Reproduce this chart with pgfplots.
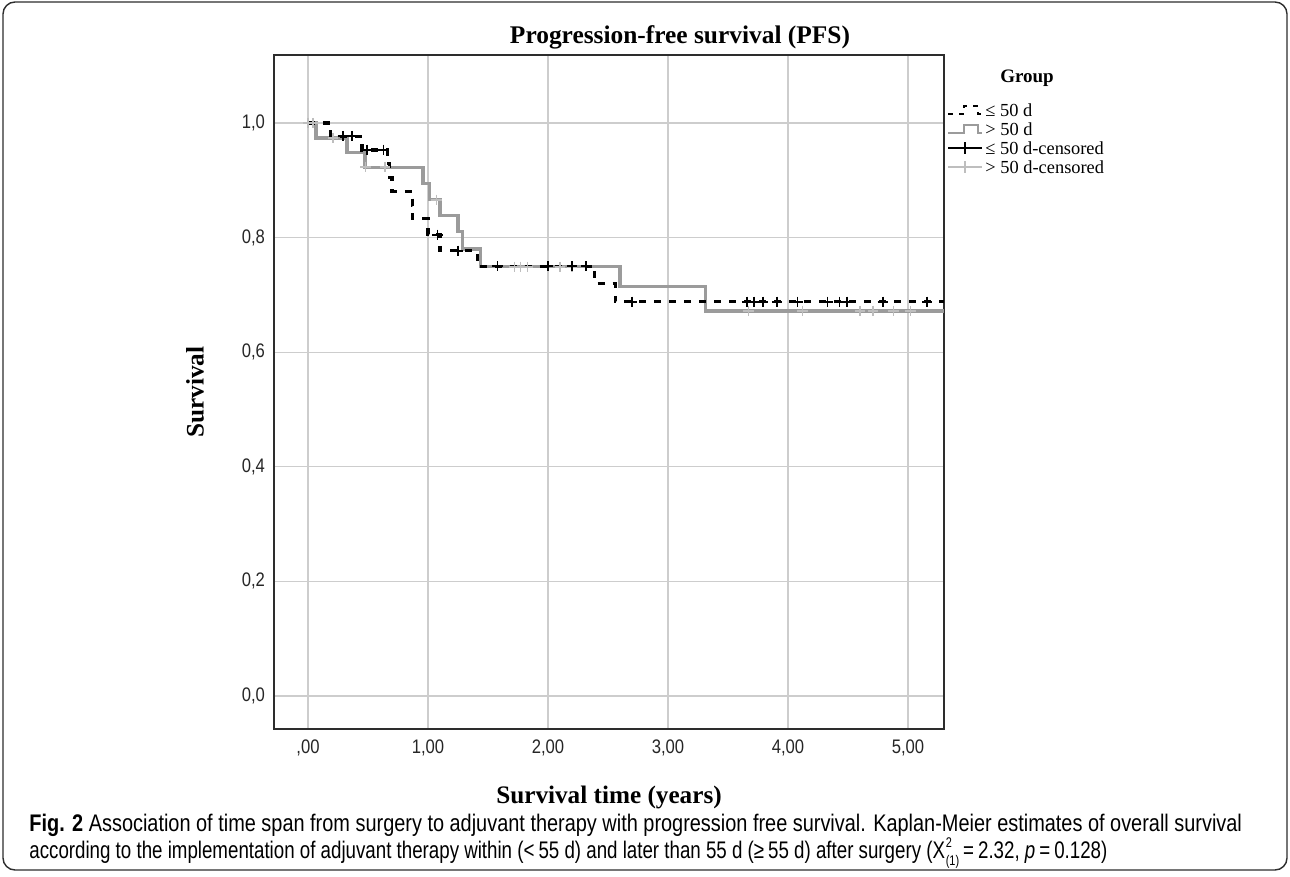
\documentclass[border=0pt]{standalone}
\usepackage{fontspec}
\setmainfont{Liberation Serif}
\usepackage{pgfplots}
\pgfplotsset{compat=1.18}
\newfontfamily\tickfont[FakeStretch=0.85]{Liberation Sans}
\newfontfamily\capfont[FakeStretch=0.83]{Liberation Sans}
\newfontfamily\capfontb[FakeStretch=0.78]{Liberation Sans}
\definecolor{kmgray}{RGB}{155,155,155}
\definecolor{cengray}{RGB}{190,190,190}
\definecolor{gridgray}{RGB}{205,205,205}
\definecolor{framec}{RGB}{45,45,45}

\begin{document}
\begin{tikzpicture}
\useasboundingbox (0,0) rectangle (645bp,438.5bp);
\draw[line width=0.7bp, color=framec, rounded corners=6bp] (1.5bp,3.5bp) rectangle (643.5bp,437.5bp);

\begin{axis}[at={(137bp,74bp)}, anchor=south west, scale only axis,
  width=335bp, height=337bp,
  xmin=-0.283, xmax=5.30, ymin=-0.0576, ymax=1.1187,
  xtick={0,1,2,3,4,5}, xticklabels={{,00},{1,00},{2,00},{3,00},{4,00},{5,00}},
  ytick={0,0.2,0.4,0.6,0.8,1.0}, yticklabels={{0,0},{0,2},{0,4},{0,6},{0,8},{1,0}},
  grid=major, major grid style={gridgray, line width=0.6bp},
  axis line style={framec, line width=0.8bp},
  major tick length=0pt,
  tick label style={font=\tickfont\fontsize{9.8bp}{11bp}\selectfont, text=black!85},
  xticklabel style={yshift=-2bp},
  yticklabel style={xshift=-1bp},
  clip=false]
% > 50 d (gray step)
\addplot[const plot, color=kmgray, line width=1.6bp] coordinates {
  (0,1.0) (0.067,0.974) (0.325,0.949) (0.475,0.923) (0.958,0.894)
  (1.01,0.866) (1.10,0.839) (1.25,0.810) (1.29,0.780) (1.44,0.749)
  (2.60,0.714) (3.31,0.672) (5.30,0.672)
};
% <= 50 d (black dashed step)
\addplot[const plot, color=black, line width=1.6bp, dash pattern=on 3.5bp off 4bp] coordinates {
  (0,1.0) (0.19,0.977) (0.45,0.953) (0.66,0.929) (0.68,0.905) (0.70,0.881)
  (0.87,0.857) (0.872,0.833) (1.0,0.805) (1.10,0.777) (1.41,0.75)
  (2.39,0.72) (2.56,0.688) (5.30,0.688)
};
% > 50 d censored
\addplot[only marks, mark=+, mark size=2.6bp, mark options={line width=0.8bp, cengray}] coordinates {
  (0.0,1.0) (0.04,1.0) (0.21,0.974) (0.48,0.923) (0.64,0.923) (1.07,0.866)
  (1.72,0.749) (1.77,0.749) (1.83,0.749) (2.10,0.749) (2.20,0.749)
  (3.67,0.672) (4.12,0.672) (4.60,0.672) (4.71,0.672) (4.88,0.672) (5.02,0.672)
};
% <= 50 d censored
\addplot[only marks, mark=+, mark size=2.6bp, mark options={line width=0.9bp, black}] coordinates {
  (0.29,0.977) (0.37,0.977) (0.49,0.953) (0.63,0.953) (1.08,0.805) (1.25,0.777)
  (1.58,0.75) (2.0,0.75) (2.2,0.75) (2.32,0.75)
  (2.70,0.688) (3.66,0.688) (3.72,0.688) (3.79,0.688) (3.91,0.688) (4.08,0.688)
  (4.33,0.688) (4.43,0.688) (4.49,0.688) (4.79,0.688) (5.16,0.688)
};
\end{axis}

% titles
\node[font=\bfseries\fontsize{12.7bp}{14bp}\selectfont] at (340bp,420bp) {Progression-free survival (PFS)};
\node[font=\bfseries\fontsize{12.6bp}{14bp}\selectfont] at (304.5bp,40bp) {Survival time (years)};
\node[font=\bfseries\fontsize{12.6bp}{14bp}\selectfont, rotate=90] at (97.5bp,242.5bp) {Survival};

% legend
\node[font=\bfseries\fontsize{9.5bp}{11bp}\selectfont] at (513.5bp,399.5bp) {Group};
\draw[black, line width=1bp, dash pattern=on 2.5bp off 3bp] (474bp,381.5bp) -- (482bp,381.5bp) -- (482bp,385.5bp) -- (489bp,385.5bp) -- (489bp,381.5bp) -- (491bp,381.5bp);
\draw[kmgray, line width=1bp] (474bp,372bp) -- (482bp,372bp) -- (482bp,376bp) -- (489bp,376bp) -- (489bp,372bp) -- (491bp,372bp);
\draw[black, line width=1bp] (474bp,364.5bp) -- (491bp,364.5bp);
\draw[black, line width=1bp] (482.5bp,361.5bp) -- (482.5bp,367.5bp);
\draw[cengray, line width=1bp] (474bp,355bp) -- (491bp,355bp);
\draw[cengray, line width=1bp] (482.5bp,352bp) -- (482.5bp,358bp);
\begin{scope}[every node/.style={anchor=west, inner sep=0pt, font=\fontsize{9.2bp}{10bp}\selectfont}]
\node at (492.5bp,383.5bp) {≤ 50 d};
\node at (492.5bp,374bp) {> 50 d};
\node at (492.5bp,364.5bp) {≤ 50 d-censored};
\node at (492.5bp,355bp) {> 50 d-censored};
\end{scope}

% caption
\node[anchor=west, inner sep=0pt, font=\capfont\fontsize{12bp}{14bp}\selectfont] at (14.5bp,26bp) {\textbf{Fig. 2} Association of time span from surgery to adjuvant therapy with progression free survival. Kaplan-Meier estimates of overall survival};
\node[anchor=west, inner sep=0pt, font=\capfontb\fontsize{12bp}{14bp}\selectfont] at (14.5bp,12bp) {according to the implementation of adjuvant therapy within (<\,55 d) and later than 55 d (≥\,55 d) after surgery (X\kern0.3bp\raisebox{5.4bp}{\fontsize{7bp}{8bp}\selectfont 2}\kern-3.0bp\raisebox{-3.8bp}{\fontsize{7bp}{8bp}\selectfont (1)}\,=\,2.32, \textit{p}\,=\,0.128)};
\end{tikzpicture}
\end{document}
